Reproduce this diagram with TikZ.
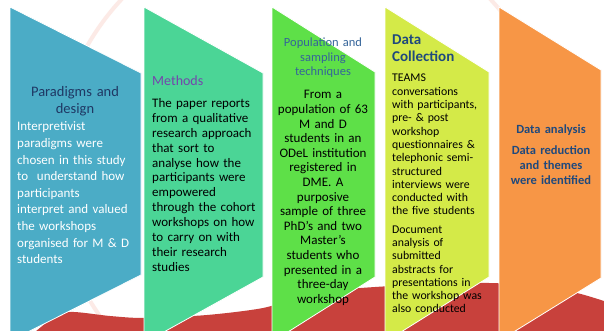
\documentclass[tikz,border=0pt]{standalone}
\usepackage{fontspec}
\setmainfont{Carlito}
\usepackage{tikz}

\definecolor{pardesign}{HTML}{4BACC6}
\definecolor{methods}{HTML}{4BD596}
\definecolor{sampling}{HTML}{5EE048}
\definecolor{collection}{HTML}{D4EA48}
\definecolor{analysis}{HTML}{F79646}
\definecolor{redband}{HTML}{C8413C}
\definecolor{ringpink}{HTML}{FCEAE6}
\definecolor{navy}{HTML}{1F3864}
\definecolor{plum}{HTML}{7446AC}
\definecolor{steel}{HTML}{35649A}
\definecolor{darkblue}{HTML}{1F497D}

\begin{document}
\begin{tikzpicture}[x=1pt, y=-1pt,
  panel/.style={draw=white, line width=0.8pt},
  lefttext/.style={inner sep=0pt, anchor=base west, align=left, text width=#1},
  midtext/.style={inner sep=0pt, anchor=base, align=center, text width=#1}]
\useasboundingbox[fill=white] (0,0) rectangle (604,331);
\begin{scope}
\clip (0,0) rectangle (604,331);
\draw[ringpink, line width=4pt] (306,171) circle (252);
\fill[redband] plot[smooth] coordinates {(20,345) (50,320) (70,312) (110,316) (145,318) (207,315) (263,308) (300,297) (340,290) (375,287) (430,284) (489,283) (540,286) (577,293) (604,301)} -- (604,345) -- cycle;
\filldraw[panel, fill=pardesign] (10,7) -- (141,73) -- (141,275) -- (10,341) -- cycle;
\filldraw[panel, fill=methods] (144,7) -- (263,73) -- (263,277) -- (144,343) -- cycle;
\filldraw[panel, fill=sampling] (272,7) -- (375,72) -- (375,277) -- (272,342) -- cycle;
\filldraw[panel, fill=collection] (385,7) -- (489,72) -- (489,277) -- (385,342) -- cycle;
\filldraw[panel, fill=analysis] (499,7) -- (601,70) -- (601,278) -- (499,341) -- cycle;
\end{scope}

\node[midtext=120pt, text=navy, font=\fontsize{14.5}{16.5}\selectfont] (pdhead) at (75,97) {Paradigms and\\design};
\node[lefttext=122pt, text=white, font=\fontsize{13}{16.6}\selectfont] (pdbody) at (17,131)
  {Interpretivist\\paradigms were\\chosen in this study\\to\ \ understand how\\participants\\interpret and valued\\the workshops\\organised for M \& D\\students};

\node[lefttext=110pt, text=plum, font=\fontsize{14}{16}\selectfont] (mhead) at (152,86) {Methods};
\node[lefttext=110pt, font=\fontsize{13}{14.9}\selectfont] (mbody) at (152,107.5)
  {The paper reports\\from a qualitative\\research approach\\that sort to\\analyse how the\\participants were\\empowered\\through the cohort\\workshops on how\\to carry on with\\their research\\studies};

\node[midtext=100pt, text=steel, font=\fontsize{12.5}{14.5}\selectfont] (shead) at (323,47) {Population and\\sampling\\techniques};
\node[midtext=100pt, font=\fontsize{13}{14.6}\selectfont] (sbody) at (323,99)
  {From a\\population of 63\\M and D\\students in an\\ODeL institution\\registered in\\DME. A\\purposive\\sample of three\\PhD’s and two\\Master’s\\students who\\presented in a\\three-day\\workshop};

\node[lefttext=100pt, text=darkblue, font=\bfseries\fontsize{15}{17}\selectfont] (chead) at (392,45) {Data\\Collection};
\node[lefttext=100pt, font=\fontsize{11.8}{13.3}\selectfont] (cbody) at (392,82)
  {TEAMS\\conversations\\with participants,\\pre- \& post\\workshop\\questionnaires \&\\telephonic semi-\\structured\\interviews were\\conducted with\\the five students};
\node[lefttext=100pt, font=\fontsize{11.8}{13.2}\selectfont] (cdoc) at (392,233.5)
  {Document\\analysis of\\submitted\\abstracts for\\presentations in\\the workshop was\\also conducted};

\node[midtext=100pt, text=darkblue, font=\bfseries\fontsize{12.5}{15}\selectfont] (ahead) at (551,134) {Data analysis};
\node[midtext=100pt, text=darkblue, font=\bfseries\fontsize{12.5}{14.8}\selectfont] (abody) at (551,155)
  {Data reduction\\and themes\\were identified};
\end{tikzpicture}
\end{document}
